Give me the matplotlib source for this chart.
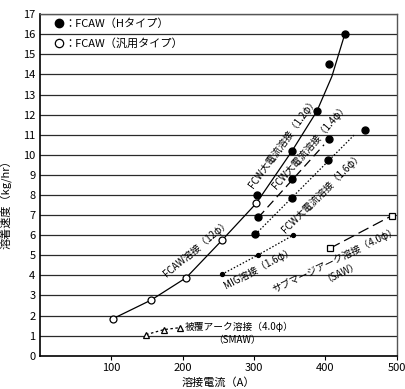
import matplotlib
matplotlib.use("Agg")
import matplotlib.pyplot as plt

plt.rcParams['font.family'] = ['Noto Sans CJK JP', 'DejaVu Sans']

# --- data ---
fcaw_x = [103, 156, 205, 255, 303]
fcaw_y = [1.85, 2.77, 3.88, 5.74, 7.58]

# solid line for 1.2φ (FCAW general + FCW high current)
line12_x = [103, 156, 205, 255, 303, 353, 388, 409, 427]
line12_y = [1.85, 2.77, 3.88, 5.74, 7.58, 10.18, 12.17, 13.9, 16.0]

h12_x = [304, 353, 388, 405, 427]
h12_y = [8.0, 10.18, 12.17, 14.5, 16.0]

h14_x = [306, 353, 405]
h14_y = [6.88, 8.78, 10.78]
line14_x = [306, 398]
line14_y = [6.88, 10.5]

h16_x = [302, 353, 404, 455]
h16_y = [6.04, 7.83, 9.75, 11.24]
line16_x = [302, 440]
line16_y = [6.04, 10.98]

mig_x = [255, 305, 355]
mig_y = [4.05, 5.0, 6.0]

saw_x = [406, 493]
saw_y = [5.34, 6.97]

smaw_x = [149, 174, 197]
smaw_y = [1.05, 1.3, 1.4]

xticks = [100, 200, 300, 400, 500]
yticks = list(range(0, 18))

fig = plt.figure(figsize=(4.05, 3.89), dpi=100)
ax = fig.add_axes([0.098, 0.0856, 0.882, 0.878])
ax.set_xlim(0, 500)
ax.set_ylim(0, 17)

for y in yticks[1:]:
    ax.axhline(y, color='#2a2a2a', lw=0.9, zorder=1)

# lines
ax.plot(line12_x, line12_y, color='black', lw=0.9, zorder=2)
ax.plot(line14_x, line14_y, color='black', lw=0.9, dashes=(7, 4), zorder=2)
ax.plot(line16_x, line16_y, color='black', lw=0.9, dashes=(1.2, 1.5), zorder=2)
ax.plot(mig_x, mig_y, color='black', lw=0.9, dashes=(1.2, 1.5), zorder=2)
ax.plot(saw_x, saw_y, color='black', lw=0.9, dashes=(9, 4), zorder=2)
ax.plot(smaw_x, smaw_y, color='black', lw=0.9, dashes=(2, 2), zorder=2)

# markers
ax.plot(fcaw_x, fcaw_y, 'o', ms=5, mfc='white', mec='black', mew=0.9, zorder=3)
ax.plot(h12_x, h12_y, 'o', ms=5, color='black', zorder=3)
ax.plot(h14_x, h14_y, 'o', ms=5, color='black', zorder=3)
ax.plot(h16_x, h16_y, 'o', ms=5, color='black', zorder=3)
ax.plot(mig_x, mig_y, 'o', ms=2.8, color='black', zorder=3)
ax.plot(saw_x, saw_y, 's', ms=5, mfc='white', mec='black', mew=0.9, zorder=3)
ax.plot(smaw_x, smaw_y, '^', ms=4.5, mfc='white', mec='black', mew=0.9, zorder=3)

# legend entries
ax.plot([27], [16.55], 'o', ms=6, color='black', zorder=3, clip_on=False)
ax.plot([27], [15.56], 'o', ms=6, mfc='white', mec='black', mew=0.9, zorder=3)
ax.text(35, 16.55, '：FCAW（Hタイプ）', fontsize=8, va='center', ha='left')
ax.text(35, 15.56, '：FCAW（汎用タイプ）', fontsize=8, va='center', ha='left')

# annotations
fs = 7
ax.text(219, 5.36, 'FCAW溶接（12φ）', fontsize=fs, rotation=40, ha='center', va='center', rotation_mode='anchor')
ax.text(341, 10.6, 'FCW大電流溶接（1.2φ）', fontsize=fs, rotation=54, ha='center', va='center', rotation_mode='anchor')
ax.text(379, 10.4, 'FCW大電流溶接（1.4φ）', fontsize=fs, rotation=49, ha='center', va='center', rotation_mode='anchor')
ax.text(395, 8.1, 'FCW大電流溶接（1.6φ）', fontsize=fs, rotation=45, ha='center', va='center', rotation_mode='anchor')
ax.text(307, 4.36, 'MIG溶接（1.6φ）', fontsize=fs, rotation=28, ha='center', va='center', rotation_mode='anchor')
ax.text(413, 4.75, 'サブマージアーク溶接（4.0φ）', fontsize=fs, rotation=26, ha='center', va='center', rotation_mode='anchor')
ax.text(421, 4.25, '（SAW）', fontsize=fs, rotation=26, ha='center', va='center', rotation_mode='anchor')
ax.text(203, 1.42, '被覆アーク溶接（4.0φ）', fontsize=fs, ha='left', va='center')
ax.text(276, 0.8, '（SMAW）', fontsize=fs, ha='center', va='center')

ax.set_xticks(xticks)
ax.set_yticks(yticks)
ax.tick_params(axis='x', length=3, width=0.8, labelsize=8, pad=2)
ax.tick_params(axis='y', length=0, labelsize=8, pad=3)
ax.set_xlabel('溶接電流（A）', fontsize=8, labelpad=3)
ax.set_ylabel('溶着速度（kg/hr）', fontsize=8, labelpad=6)
ax.yaxis.set_label_coords(-0.075, 0.45)

for s in ['left', 'bottom']:
    ax.spines[s].set_linewidth(1.2)
    ax.spines[s].set_color('black')
for s in ['right', 'top']:
    ax.spines[s].set_linewidth(1.0)
    ax.spines[s].set_color('#555555')

fig.savefig('out.png', dpi=100)
